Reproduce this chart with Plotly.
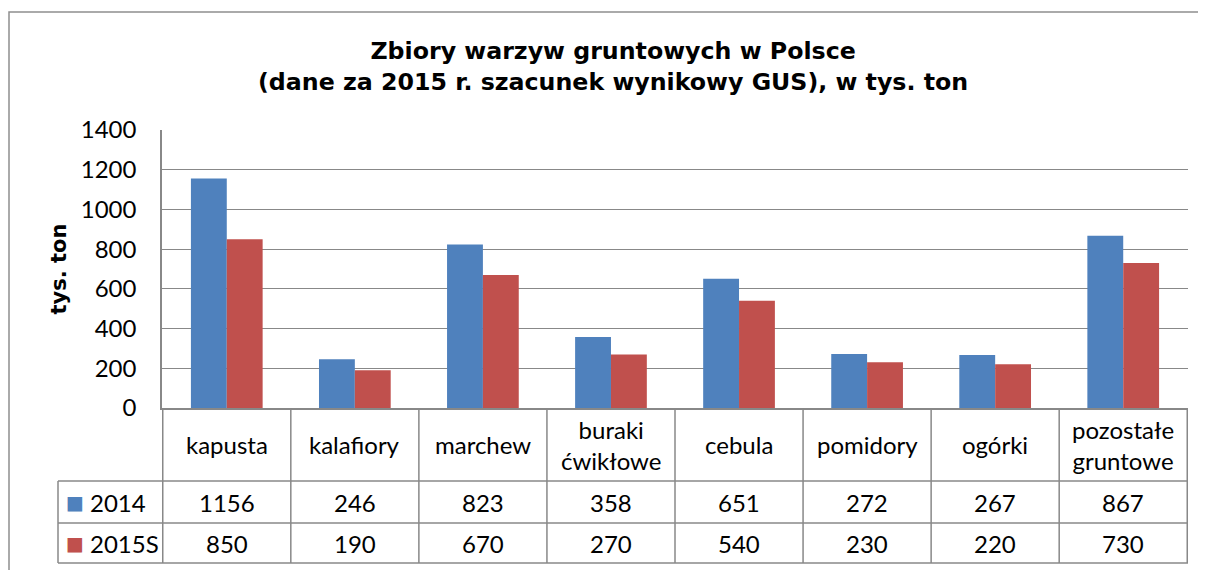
"""Zbiory warzyw gruntowych w Polsce - grouped bars with an Excel-style data table."""
import plotly.graph_objects as go

CATEGORIES = ["kapusta", "kalafiory", "marchew", "buraki<br>ćwikłowe", "cebula",
              "pomidory", "ogórki", "pozostałe<br>gruntowe"]
SERIES_NAMES = ["2014", "2015S"]
VALUES_2014 = [1156, 246, 823, 358, 651, 272, 267, 867]
VALUES_2015S = [850, 190, 670, 270, 540, 230, 220, 730]
Y_TICKS = [0, 200, 400, 600, 800, 1000, 1200, 1400]

COLORS = ["#4F81BD", "#C0504D"]
GRID = "#888888"
TEXT_FONT = "Lato, sans-serif"
BOLD_FONT = "DejaVu Sans, sans-serif"

# the page body has an 8px margin, so the figure is 8px smaller than the window
OFF = 8
W, H = 1206 - OFF, 570 - OFF
M = dict(l=162 - OFF, r=18, t=130 - OFF, b=162)
PLOT_H = H - M["t"] - M["b"]
PLOT_W = W - M["l"] - M["r"]


def py(px):
    """Window pixel row -> paper y."""
    return (H - M["b"] - (px - OFF)) / PLOT_H


def px_(px):
    """Window pixel column -> paper x."""
    return (px - OFF - M["l"]) / PLOT_W


fig = go.Figure()
for name, vals, color in zip(SERIES_NAMES, [VALUES_2014, VALUES_2015S], COLORS):
    fig.add_trace(go.Bar(
        name=name, x=CATEGORIES, y=vals,
        marker_color=color, marker_line_width=0,
        hovertemplate="<b>%{x}</b><br>" + name + ": %{y}<extra></extra>",
    ))

# data table rows (paper y) and row centres
row_lines = [py(481), py(523), py(563)]
row_cat, row_a, row_b = py(444.5), py(502), py(543)
table_left = px_(58)

shapes = []
line = dict(color=GRID, width=1.5)
for y in row_lines:
    shapes.append(dict(type="line", xref="paper", yref="paper",
                       x0=table_left, x1=1, y0=y, y1=y, line=dict(line)))
for i in range(len(CATEGORIES) + 1):
    shapes.append(dict(type="line", xref="x", yref="paper",
                       x0=i - 0.5, x1=i - 0.5, y0=0, y1=row_lines[-1], line=dict(line)))
shapes.append(dict(type="line", xref="paper", yref="paper",
                   x0=table_left, x1=table_left, y0=row_lines[0], y1=row_lines[-1],
                   line=dict(line)))
# outer chart border (cut at the right and bottom edges)
shapes.append(dict(type="rect", xref="paper", yref="paper",
                   x0=px_(9), x1=px_(1240), y0=py(600), y1=py(12),
                   line=dict(color="#8F8F8F", width=1.5), layer="below"))


def note(text, x, y, xref="paper", font=None, **kw):
    return dict(text=text, x=x, y=y, xref=xref, yref="paper", showarrow=False,
                xanchor=kw.pop("xanchor", "center"), yanchor="middle",
                font=font, **kw)


annotations = [note(
    "<b>Zbiory warzyw gruntowych w Polsce<br>"
    "(dane za 2015 r. szacunek wynikowy GUS), w tys. ton</b>",
    px_(613), py(66), font=dict(family=BOLD_FONT, size=23.7, color="black"),
    align="center",
)]
tfont = dict(family=TEXT_FONT, size=24, color="black")
for i, cat in enumerate(CATEGORIES):
    annotations.append(note(cat, i, row_cat, xref="x", font=tfont, align="center"))
    annotations.append(note(str(VALUES_2014[i]), i, row_a, xref="x", font=tfont))
    annotations.append(note(str(VALUES_2015S[i]), i, row_b, xref="x", font=tfont))
for name, color, y in zip(SERIES_NAMES, COLORS, [row_a, row_b]):
    annotations.append(note("■", px_(74.5), y,
                            font=dict(family="DejaVu Sans", size=19, color=color)))
    annotations.append(note(name, px_(88), y, font=tfont, xanchor="left"))

fig.update_layout(
    width=W, height=H, autosize=False, margin=M,
    paper_bgcolor="white", plot_bgcolor="white",
    showlegend=False, barmode="group", bargap=0.44, bargroupgap=0,
    font=dict(family=TEXT_FONT, size=24, color="black"),
    shapes=shapes, annotations=annotations,
)
fig.update_xaxes(showticklabels=False, showgrid=False, showline=True,
                 linecolor=GRID, linewidth=1.5, ticks="", zeroline=False)
fig.update_yaxes(range=[0, 1400], tickvals=Y_TICKS, showgrid=True, gridcolor=GRID,
                 gridwidth=1.2, showline=True, linecolor=GRID, linewidth=1.5,
                 zeroline=False, ticks="", ticklabelstandoff=19,
                 tickfont=dict(family=TEXT_FONT, size=24),
                 title=dict(text="<b>tys. ton</b>", standoff=8,
                            font=dict(family=BOLD_FONT, size=21)))

fig.write_html("out.html")
